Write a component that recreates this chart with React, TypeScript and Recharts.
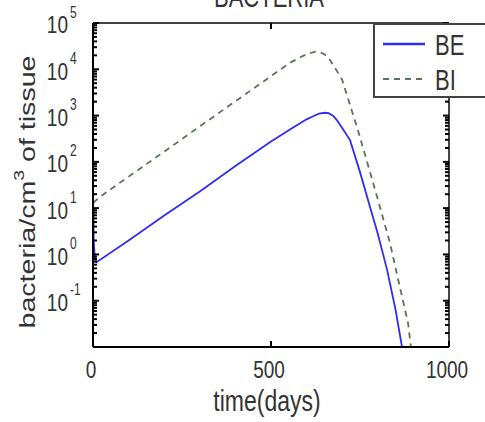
import { LineChart, Line, XAxis, YAxis, ReferenceLine, Legend, Customized } from 'recharts';

// BE: extracellular bacteria, BI: intracellular bacteria
const beTime = [0, 2, 5, 10, 100, 200, 300, 400, 500, 560, 600, 620, 635, 650, 662, 675, 685, 700, 722, 750, 778, 800, 826, 850, 868];
const beValue = [28, 2, 0.85, 0.68, 2.0, 6.9, 23, 81, 275, 540, 830, 980, 1100, 1150, 1130, 980, 800, 540, 295, 60, 10.7, 2.8, 0.47, 0.063, 0.01];

const biTime = [0, 28, 100, 200, 300, 400, 500, 553, 590, 610, 625, 638, 650, 660, 680, 700, 744, 787, 834, 860, 885, 893];
const biValue = [13, 19.5, 48, 166, 585, 2040, 7100, 13800, 19500, 22400, 24000, 23400, 21000, 18600, 10700, 5900, 490, 35, 1.8, 0.23, 0.033, 0.01];

const xTicks = [0, 500, 1000];
const yDecades = [0.01, 0.1, 1, 10, 100, 1000, 10000];
const yMinor = [1, 2, 3, 4, 5, 6, 7, 8, 9];
const yTicks = yDecades.flatMap((d) => yMinor.map((m) => m * d)).concat([100000]);

const beData = beTime.map((t, i) => ({ t, v: beValue[i] }));
const biData = biTime.map((t, i) => ({ t, v: biValue[i] }));

const FONT = 'Liberation Sans, Arial, Helvetica, sans-serif';
const PLOT_W = 356;
const BLUE = '#2f2ff0';
const GREEN = '#557755';

const YTick = (props: any) => {
  const { x, y, payload } = props;
  const lg = Math.log10(payload.value);
  const exp = Math.round(lg);
  const major = Math.abs(lg - exp) < 1e-6;
  const len = major ? 6 : 4;
  const ax = 93;
  return (
    <g>
      <path d={`M${ax},${y}h${len}`} stroke="#000" strokeWidth={2} fill="none" />
      <path d={`M${ax + PLOT_W},${y}h${-len}`} stroke="#000" strokeWidth={2} fill="none" />
      {major && exp > -2 && (
        <g transform={`translate(${x - 25},${y + 2}) scale(1,1.3)`} fontFamily={FONT} fill="#333">
          <text x={0} y={0} textAnchor="end" dominantBaseline="central" fontSize={19}>10</text>
          <text x={2} y={-10} textAnchor="start" dominantBaseline="central" fontSize={12}>{exp}</text>
        </g>
      )}
    </g>
  );
};

const XTick = (props: any) => {
  const { x, y, payload } = props;
  return (
    <g>
      <path d={`M${x},347v-6`} stroke="#000" strokeWidth={2} fill="none" />
      <path d={`M${x},23v6`} stroke="#000" strokeWidth={2} fill="none" />
      <g transform={`translate(${x - 2},${y + 23}) scale(1,1.3)`}>
        <text x={0} y={0} textAnchor="middle" dominantBaseline="central" fontSize={19} fontFamily={FONT} fill="#333">
          {payload.value}
        </text>
      </g>
    </g>
  );
};

const Title = () => (
  <g transform="translate(269,7) scale(1,1.3)">
    <text x={0} y={0} textAnchor="middle" fontSize={22} fontFamily={FONT} fill="#333">BACTERIA</text>
  </g>
);

const yLabel = () => (
  <g transform="translate(27,192) rotate(-90) scale(1.3,1)">
    <text x={0} y={0} textAnchor="middle" dominantBaseline="central" fontSize={22} fontFamily={FONT} fill="#333">
      bacteria/cm<tspan dy={-8} fontSize={15}>3</tspan>
      <tspan dy={8}> of tissue</tspan>
    </text>
  </g>
);

const xLabel = () => (
  <g transform="translate(267,411) scale(1,1.3)">
    <text x={0} y={0} textAnchor="middle" fontSize={23} fontFamily={FONT} fill="#333">time(days)</text>
  </g>
);

const LegendBox = () => (
  <div
    style={{
      width: 112,
      height: 75,
      background: '#fff',
      borderLeft: '2px solid #444',
      borderTop: '2px solid #444',
      borderBottom: '2px solid #444',
      boxSizing: 'border-box',
    }}
  >
    <svg width={110} height={71} style={{ display: 'block' }}>
      <line x1={8} x2={50} y1={19} y2={19} stroke={BLUE} strokeWidth={2.5} />
      <line x1={8} x2={50} y1={54} y2={54} stroke={GREEN} strokeWidth={2} strokeDasharray="6 5" />
      <g fontFamily={FONT} fill="#333" fontSize={22}>
        <g transform="translate(60,20) scale(1,1.3)">
          <text x={0} y={0} dominantBaseline="central">BE</text>
        </g>
        <g transform="translate(60,55) scale(1,1.3)">
          <text x={0} y={0} dominantBaseline="central">BI</text>
        </g>
      </g>
    </svg>
  </div>
);

export default function App() {
  return (
    <div style={{ position: 'absolute', left: 0, top: 0, width: 485, height: 422, overflow: 'hidden', background: '#fff' }}>
      <LineChart width={485} height={422} margin={{ top: 23, right: 36, bottom: 45, left: 33 }}>
        <XAxis
          type="number"
          dataKey="t"
          domain={[0, 1000]}
          ticks={xTicks}
          height={30}
          tickSize={0}
          tickMargin={0}
          tick={<XTick />}
          axisLine={{ stroke: '#000', strokeWidth: 2 }}
          allowDataOverflow
          label={{ content: xLabel }}
        />
        <YAxis
          type="number"
          scale="log"
          domain={[0.01, 100000]}
          ticks={yTicks}
          width={60}
          tickSize={0}
          tickMargin={0}
          tick={<YTick />}
          interval={0}
          axisLine={{ stroke: '#000', strokeWidth: 2 }}
          allowDataOverflow
          label={{ content: yLabel }}
        />
        <ReferenceLine y={100000} stroke="#444" strokeWidth={2} />
        <ReferenceLine x={1000} stroke="#444" strokeWidth={2} />
        <Line
          data={beData}
          dataKey="v"
          type="linear"
          stroke={BLUE}
          strokeWidth={1.8}
          dot={false}
          isAnimationActive={false}
        />
        <Line
          data={biData}
          dataKey="v"
          type="linear"
          stroke={GREEN}
          strokeWidth={1.8}
          strokeDasharray="6 5"
          dot={false}
          isAnimationActive={false}
        />
        <Legend
          layout="horizontal"
          verticalAlign="middle"
          content={<LegendBox />}
          wrapperStyle={{ left: 373, top: 23, width: 112, height: 75 }}
        />
        <Customized component={<Title />} />
      </LineChart>
    </div>
  );
}
